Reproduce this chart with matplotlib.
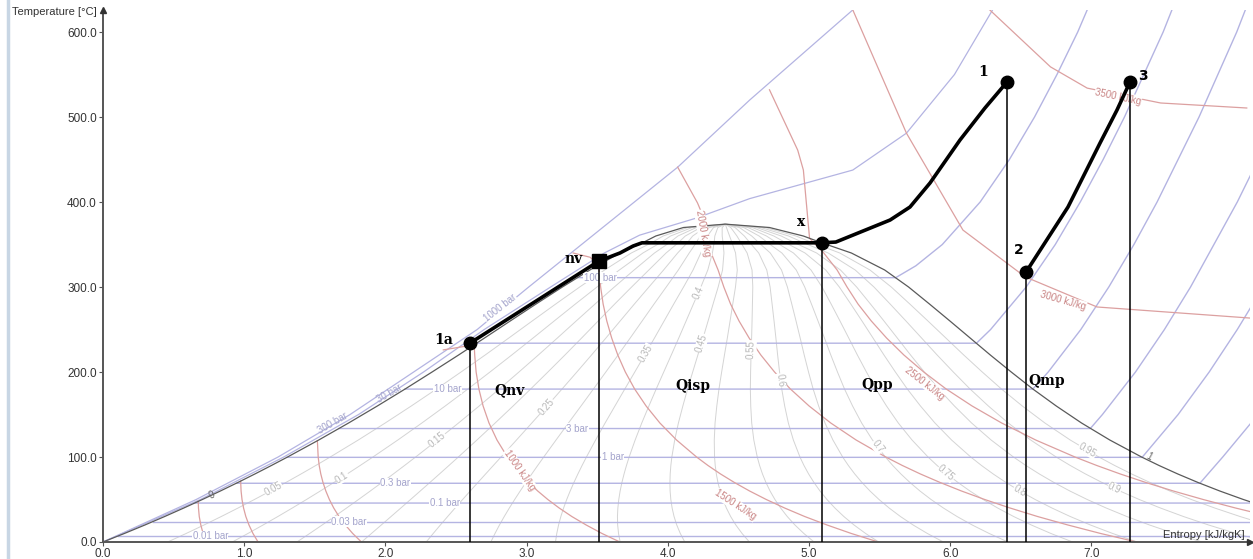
import numpy as np
import matplotlib
matplotlib.use("Agg")
import matplotlib.pyplot as plt

# saturated water / steam (dome of the chart): T [C], h' h'' [kJ/kg], s' s'' [kJ/kgK]
sat_T = [0.01, 10, 20, 30, 40, 50, 60, 70, 80, 90, 100, 120, 140, 160, 180, 200,
         220, 240, 260, 280, 300, 320, 340, 352, 360, 370, 373.95]
sat_hf = [0.0, 42.0, 83.9, 125.8, 167.5, 209.3, 251.1, 293.0, 335.0, 377.0, 419.0,
          503.7, 589.1, 675.5, 763.2, 852.4, 943.6, 1037.5, 1134.8, 1236.8, 1344.8,
          1461.3, 1594.5, 1694.0, 1760.5, 1890.7, 2084.3]
sat_hg = [2501.4, 2519.7, 2537.4, 2556.3, 2574.2, 2592.0, 2609.6, 2626.8, 2643.8, 2660.2,
          2676.0, 2706.3, 2733.8, 2758.1, 2778.2, 2793.1, 2802.1, 2804.0, 2797.3, 2780.4,
          2749.7, 2699.9, 2622.4, 2537.0, 2481.2, 2333.8, 2084.3]
sat_sf = [0.0, 0.151, 0.2966, 0.4369, 0.5724, 0.7038, 0.8312, 0.9549, 1.0753, 1.1925,
          1.3069, 1.5278, 1.7391, 1.9427, 2.1396, 2.3305, 2.5182, 2.7020, 2.8838, 3.0668,
          3.2534, 3.4480, 3.6594, 3.8200, 3.9147, 4.1106, 4.407]
sat_sg = [9.156, 8.901, 8.667, 8.453, 8.257, 8.076, 7.909, 7.755, 7.612, 7.479, 7.355,
          7.130, 6.930, 6.751, 6.585, 6.432, 6.284, 6.141, 5.998, 5.853, 5.705, 5.536,
          5.300, 5.090, 4.960, 4.720, 4.407]

qualities = [0.05, 0.1, 0.15, 0.2, 0.25, 0.3, 0.35, 0.4, 0.45, 0.5,
             0.55, 0.6, 0.65, 0.7, 0.75, 0.8, 0.85, 0.9, 0.95]

# isobars: name, saturation temperature, superheated part (T, s)
isobar_names = ["0.01 bar", "0.03 bar", "0.1 bar", "0.3 bar", "1 bar", "3 bar", "10 bar", "30 bar", "100 bar"]
isobar_tsat = [6.97, 24.08, 45.81, 69.1, 99.6, 133.5, 179.9, 233.9, 311.0]
isobar_label_s = [0.76, 1.74, 2.42, 2.07, 3.61, 3.36, 2.44, None, 3.52]
isobar_sup_T = [[6.97], [24.08], [45.81, 50, 100], [69.1, 100, 150],
                [99.6, 150, 200, 250, 300, 350],
                [133.5, 150, 200, 250, 300, 400, 500],
                [179.9, 200, 250, 300, 350, 400, 500, 600, 626],
                [233.9, 250, 300, 350, 400, 450, 500, 600, 626],
                [311.0, 325, 350, 400, 450, 500, 550, 600, 626]]
isobar_sup_s = [[8.975], [8.578], [8.149, 8.174, 8.449], [7.768, 7.93, 8.18],
                [7.359, 7.614, 7.834, 8.033, 8.216, 8.39],
                [6.992, 7.078, 7.312, 7.517, 7.702, 8.033, 8.330],
                [6.585, 6.694, 6.925, 7.123, 7.301, 7.465, 7.762, 8.029, 8.09],
                [6.186, 6.286, 6.538, 6.744, 6.921, 7.083, 7.234, 7.508, 7.57],
                [5.614, 5.757, 5.944, 6.212, 6.419, 6.597, 6.756, 6.903, 6.97]]
p300_T = [0.01, 50, 100, 150, 200, 250, 300, 340, 361, 381, 404, 437.6, 481, 550, 626]
p300_s = [0.0, 0.69, 1.28, 1.81, 2.27, 2.70, 3.17, 3.55, 3.80, 4.20, 4.58, 5.31, 5.69, 6.03, 6.30]
p1000_T = [0.01, 50, 100, 150, 200, 250, 298, 441, 520, 626]
p1000_s = [0.0, 0.66, 1.24, 1.75, 2.20, 2.65, 3.0, 4.07, 4.58, 5.31]

# isenthalps [kJ/kg] and the parts outside the wet region (T, s)
enth_values = [200, 300, 500, 1000, 1500, 2000, 2500]
enth_extra_T = {1000: [226], 1500: [335, 340], 2000: [399, 441], 2500: [437.6, 461, 532]}
enth_extra_s = {1000: [2.41], 1500: [3.45, 3.33], 2000: [4.21, 4.07], 2500: [4.96, 4.92, 4.72]}
h3000_T = [626, 481, 367, 312, 276.5, 263.5]
h3000_s = [5.31, 5.69, 6.09, 6.53, 7.04, 8.12]
h3500_T = [626, 559, 534, 516.5, 510.6]
h3500_s = [6.28, 6.71, 6.97, 7.49, 8.10]

# cycle
path1_s = [2.60, 3.513, 3.661, 3.754, 3.817, 5.092, 5.19, 5.574, 5.715, 5.857, 6.069, 6.246, 6.402]
path1_T = [234.1, 330.6, 340.0, 348.2, 352.0, 352.0, 352.9, 378.8, 394.1, 422.4, 472.9, 510.6, 541.2]
path2_s = [6.537, 6.834, 7.061, 7.181, 7.273]
path2_T = [317.6, 394.1, 469.4, 508.2, 541.2]
state_names = ["1a", "nv", "x", "1", "2", "3"]
state_s = [2.60, 3.513, 5.092, 6.402, 6.537, 7.273]
state_T = [234.1, 330.6, 352.0, 541.2, 317.6, 541.2]
heat_names = ["Qnv", "Qisp", "Qpp", "Qmp"]
heat_s = [2.88, 4.18, 5.48, 6.685]
heat_T = [178.8, 183.5, 184.7, 189.4]

C_P = "#b4b4e2"
C_H = "#dca0a0"
C_Q = "#d4d4d4"

fig = plt.figure(figsize=(12.53, 5.59), dpi=100)
ax = fig.add_axes([103 / 1253, 17 / 559, 1147 / 1253, 532 / 559])
ax.set_xlim(0, 8.123)
ax.set_ylim(0, 625.9)

T = np.array(sat_T)
hf, hg = np.array(sat_hf), np.array(sat_hg)
sf, sg = np.array(sat_sf), np.array(sat_sg)

# quality lines
for q in qualities:
    ax.plot(sf + q * (sg - sf), T, color=C_Q, lw=0.7, zorder=1)

# isobars
for name, ts, st, ss in zip(isobar_names, isobar_tsat, isobar_sup_T, isobar_sup_s):
    s0 = np.interp(ts, T, sf)
    ax.plot([s0] + ss, [ts] + st, color=C_P, lw=1.0, zorder=2)
ax.plot(p300_s, p300_T, color=C_P, lw=0.9, zorder=2)
ax.plot(p1000_s, p1000_T, color=C_P, lw=0.9, zorder=2)

# isenthalps
for h in enth_values:
    x = (h - hf[:-1]) / (hg[:-1] - hf[:-1])
    ok = (x >= 0) & (x <= 1)
    ps = list(sf[:-1][ok] + x[ok] * (sg[:-1][ok] - sf[:-1][ok]))
    pt = list(T[:-1][ok])
    if h <= hf[-1]:
        pt.append(np.interp(h, hf, T))
        ps.append(np.interp(h, hf, sf))
    else:
        pt.append(np.interp(h, hg[::-1][:10], T[::-1][:10]))
        ps.append(np.interp(h, hg[::-1][:10], sg[::-1][:10]))
    ps += enth_extra_s.get(h, [])
    pt += enth_extra_T.get(h, [])
    ax.plot(ps, pt, color=C_H, lw=0.9, zorder=2)
ax.plot(h3000_s, h3000_T, color=C_H, lw=0.9, zorder=2)
ax.plot(h3500_s, h3500_T, color=C_H, lw=0.9, zorder=2)

# saturation dome
ax.plot(np.r_[sf, sg[::-1]], np.r_[T, T[::-1]], color="#5a5a5a", lw=0.9, zorder=3)


def rot_at(s_arr, t_arr, t0, dt=4.0):
    a = np.interp(t0, t_arr, s_arr)
    b = np.interp(t0 + dt, t_arr, s_arr)
    p0 = ax.transData.transform((a, t0))
    p1 = ax.transData.transform((b, t0 + dt))
    ang = np.degrees(np.arctan2(p1[1] - p0[1], p1[0] - p0[0]))
    if ang > 90:
        ang -= 180
    if ang < -90:
        ang += 180
    return a, ang


box = dict(facecolor="white", edgecolor="none", pad=0.3)
small = dict(fontsize=7, family="Liberation Sans", ha="center", va="center", zorder=4)

# quality labels
q_lab = [(0.05, 62), (0.1, 76), (0.15, 120), (0.25, 159), (0.35, 222), (0.4, 293),
         (0.45, 234), (0.55, 226), (0.6, 190), (0.7, 112), (0.75, 81), (0.8, 60),
         (0.9, 63), (0.95, 108)]
for q, t0 in q_lab:
    a, ang = rot_at(sf + q * (sg - sf), T, t0)
    ax.text(a, t0, f"{q:g}", color="#b8b8b8", rotation=ang, bbox=box, **small)
a, ang = rot_at(sf, T, 55)
ax.text(a, 55, "0", color="#666666", rotation=ang, **small)
a, ang = rot_at(sg, T, 100)
ax.text(a + 0.05, 100, "1", color="#666666", rotation=ang, **small)

# isobar labels
for name, ts, sx in zip(isobar_names, isobar_tsat, isobar_label_s):
    if sx is None:
        continue
    ax.text(sx, ts, name, color="#a4a4cc", bbox=box, **small)
ax.text(2.03, 175, "30 bar", color="#a4a4cc", rotation=30, **small)
ax.text(1.63, 140, "300 bar", color="#a4a4cc", rotation=30, **small)
ax.text(2.81, 276, "1000 bar", color="#a4a4cc", rotation=38, bbox=box, **small)

# isenthalp labels
h_lab = [("1000 kJ/kg", 2.95, 84.7, -55), ("1500 kJ/kg", 4.48, 43.5, -33),
         ("2000 kJ/kg", 4.25, 363, -80), ("2500 kJ/kg", 5.82, 187, -38),
         ("3000 kJ/kg", 6.80, 284, -16), ("3500 kJ/kg", 7.19, 524, -12)]
for txt, a, t0, ang in h_lab:
    ax.text(a, t0, txt, color="#c98484", rotation=ang, bbox=box, **small)

# cycle
for s0, t0 in zip(state_s, state_T):
    ax.plot([s0, s0], [0, t0], color="black", lw=1.1, zorder=5)
ax.plot(path1_s, path1_T, color="black", lw=2.6, solid_capstyle="round", zorder=6)
ax.plot(path2_s, path2_T, color="black", lw=2.6, solid_capstyle="round", zorder=6)
for n, s0, t0 in zip(state_names, state_s, state_T):
    ax.plot(s0, t0, "s" if n == "nv" else "o", color="black", ms=9 if n != "nv" else 9.5, zorder=7)

lab_off = {"1a": (-0.19, 3.5), "nv": (-0.18, 2.5), "x": (-0.15, 24.5),
           "1": (-0.17, 12), "2": (-0.05, 26), "3": (0.09, 7)}
for n, s0, t0 in zip(state_names, state_s, state_T):
    dx, dy = lab_off[n]
    fam = "DejaVu Sans" if n in ("2", "3") else "DejaVu Serif"
    ax.text(s0 + dx, t0 + dy, n, fontsize=10, fontweight="bold", family=fam,
            ha="center", va="center", zorder=8)
for n, s0, t0 in zip(heat_names, heat_s, heat_T):
    ax.text(s0, t0, n, fontsize=10, fontweight="bold", family="DejaVu Serif",
            ha="center", va="center", zorder=8)

# axes look
for side in ("top", "right"):
    ax.spines[side].set_visible(False)
for side in ("left", "bottom"):
    ax.spines[side].set_color("#555555")
    ax.spines[side].set_linewidth(1.4)
ax.set_xticks(np.arange(0, 8, 1.0))
ax.set_yticks(np.arange(0, 601, 100))
ax.set_xticklabels([f"{v:.1f}" for v in np.arange(0, 8, 1.0)])
ax.set_yticklabels([f"{v:.1f}" for v in np.arange(0, 601, 100)])
ax.tick_params(length=3, width=0.8, colors="#555555", labelcolor="#333333",
               labelsize=8.5, pad=1.5)
for lab in ax.get_xticklabels() + ax.get_yticklabels():
    lab.set_family("Liberation Sans")
ax.plot(0, 625.9, "^", color="#333333", ms=5, clip_on=False, zorder=9)
ax.plot(8.123, 0, ">", color="#333333", ms=5, clip_on=False, zorder=9)

fig.text(97 / 1253, 1 - 12 / 559, "Temperature [°C]", ha="right", va="center",
         fontsize=8, family="Liberation Sans", color="#333333")
fig.text(1245 / 1253, 1 - 535 / 559, "Entropy [kJ/kgK]", ha="right", va="center",
         fontsize=8, family="Liberation Sans", color="#333333")
fig.add_artist(plt.Line2D([8 / 1253, 8 / 1253], [0, 1], color="#c8d6e4", lw=2.5))

fig.savefig("out.png", dpi=100)
